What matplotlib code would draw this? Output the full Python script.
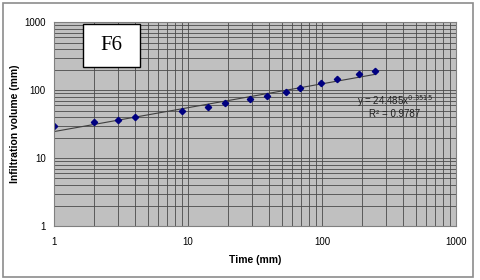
import matplotlib.pyplot as plt
import numpy as np
from matplotlib.patches import Rectangle

plt.rcParams['font.family'] = ['Liberation Sans', 'DejaVu Sans']

time = [1, 2, 3, 4, 9, 14, 19, 29, 39, 54, 69, 99, 129, 189, 249]
volume = [29.5, 33.5, 36.5, 40, 49, 56, 63.5, 73, 81, 94, 106, 125, 145, 170, 192]
fit_a = 24.485
fit_b = 0.3515

fig = plt.figure(figsize=(4.8, 2.8), dpi=100)
fig.patches.append(Rectangle((0.006, 0.012), 0.98, 0.976, transform=fig.transFigure,
                             fill=False, edgecolor='#8c8c8c', linewidth=1.2))
ax = fig.add_axes([0.1125, 0.193, 0.8375, 0.728])
ax.set_facecolor('#c0c0c0')
ax.set_xscale('log')
ax.set_yscale('log')
ax.set_xlim(1, 1000)
ax.set_ylim(1, 1000)

ax.grid(True, which='both', color='#4a4a4a', linewidth=0.6)
ax.set_axisbelow(True)
for s in ax.spines.values():
    s.set_color('#808080')
    s.set_linewidth(0.8)

xf = np.array([time[0], time[-1]])
ax.plot(xf, fit_a * xf ** fit_b, color='#404040', linewidth=0.8)
ax.plot(time, volume, 'D', color='#000080', markersize=3.2)

ax.set_xticks([1, 10, 100, 1000])
ax.set_xticklabels(['1', '10', '100', '1000'])
ax.set_yticks([1, 10, 100, 1000])
ax.set_yticklabels(['1', '10', '100', '1000'])
ax.tick_params(which='both', length=0, labelsize=7, colors='#000000', pad=8)
ax.tick_params(axis='y', pad=6)
ax.minorticks_on()
ax.tick_params(which='minor', length=0, labelleft=False, labelbottom=False)

ax.set_xlabel('Time (mm)', fontsize=7.5, fontweight='bold')
ax.set_ylabel('Infiltration volume (mm)', fontsize=7.5, fontweight='bold')
ax.xaxis.set_label_coords(0.5, -0.142)
ax.yaxis.set_label_coords(-0.085, 0.5)

ax.text(0.848, 0.588, 'y = 24.485x$^{0.3515}$\nR² = 0.9787', transform=ax.transAxes,
        fontsize=7, ha='center', va='center', color='#202020', linespacing=1.1)

# label box
ax.add_patch(Rectangle((0.072, 0.779), 0.142, 0.211, transform=ax.transAxes,
                       facecolor='white', edgecolor='black', linewidth=1, zorder=5))
ax.text(0.143, 0.885, 'F6', transform=ax.transAxes, fontsize=15, family='Liberation Serif',
        ha='center', va='center', zorder=6)

fig.savefig('out.png', dpi=100)
